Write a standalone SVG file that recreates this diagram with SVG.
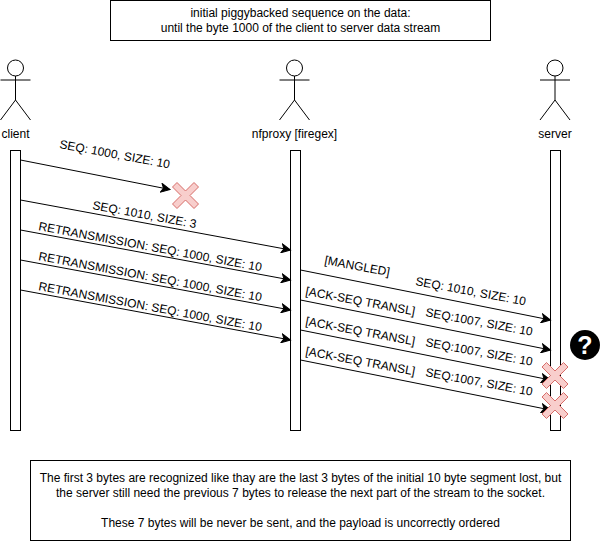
<svg xmlns="http://www.w3.org/2000/svg" width="601" height="542" viewBox="0 0 601 542">
<defs>
<marker id="arrow" markerUnits="userSpaceOnUse" markerWidth="12" markerHeight="10" refX="9.5" refY="5" orient="auto"><path d="M0.5 0.5L9.5 5L0.5 9.5L2.8 5Z" fill="#000" stroke="#000" stroke-width="1"/></marker>
<g id="actor-shape" fill="none" stroke="#000" stroke-width="1"><circle cx="15" cy="68" r="8"/><path d="M15 76V100M0 80H30M15 100L0 120M15 100L30 120"/></g>
<path id="cross" d="M-13 -8.5L-8.5 -13L0 -4.5L8.5 -13L13 -8.5L4.5 0L13 8.5L8.5 13L0 4.5L-8.5 13L-13 8.5L-4.5 0Z" fill="#f8cecc" stroke="#d76d69" stroke-width="1"/>
</defs>
<style>
text{font-family:"Liberation Sans",Arial,Helvetica,sans-serif;font-size:12px;fill:#000}
.m{text-anchor:middle}
.life{fill:#fff;stroke:#000;stroke-width:1}
.note{fill:#fff;stroke:#000;stroke-width:1}
.c{fill:none;stroke:#000;stroke-width:1;marker-end:url(#arrow)}
</style>
<rect width="601" height="542" fill="#fff"/>
<g id="note-top"><rect class="note" x="110.5" y="0.5" width="380" height="40"/><text class="m" x="300.5" y="17">initial piggybacked sequence on the data:</text><text class="m" x="300.5" y="32">until the byte 1000 of the client to server data stream</text></g>
<g id="client"><use href="#actor-shape" x="0.5"/><text class="m" x="15.5" y="138">client</text><rect class="life" x="10.5" y="150.5" width="10" height="280"/></g>
<g id="nfproxy"><use href="#actor-shape" x="279.5"/><text class="m" x="294.5" y="138">nfproxy [firegex]</text><rect class="life" x="290.5" y="150.5" width="10" height="280"/></g>
<g id="server"><use href="#actor-shape" x="540"/><text class="m" x="555" y="138">server</text><rect class="life" x="550.5" y="150.5" width="10" height="280"/></g>
<g id="connectors">
<path class="c" d="M20.5 160L170 189.5"/>
<path class="c" d="M20.5 200L290.5 250"/>
<path class="c" d="M20.5 230L290.5 280"/>
<path class="c" d="M20.5 260L290.5 310"/>
<path class="c" d="M20.5 290L290.5 340"/>
<path class="c" d="M300.5 270L550.5 320"/>
<path class="c" d="M300.5 300L550.5 350"/>
<path class="c" d="M300.5 330L550.5 380"/>
<path class="c" d="M300.5 360L550.5 410"/>
</g>
<g id="labels">
<text x="59" y="148" transform="rotate(10.5 59 148)">SEQ: 1000, SIZE: 10</text>
<text x="92" y="209" transform="rotate(10.5 92 209)">SEQ: 1010, SIZE: 3</text>
<text x="38" y="230" transform="rotate(10.5 38 230)">RETRANSMISSION: SEQ: 1000, SIZE: 10</text>
<text x="38" y="260" transform="rotate(10.5 38 260)">RETRANSMISSION: SEQ: 1000, SIZE: 10</text>
<text x="38" y="290" transform="rotate(10.5 38 290)">RETRANSMISSION: SEQ: 1000, SIZE: 10</text>
<text x="324" y="264" transform="rotate(10.5 324 264)">[MANGLED]</text>
<text x="415" y="285" transform="rotate(10.5 415 285)">SEQ: 1010, SIZE: 10</text>
<text x="305" y="295" transform="rotate(10.5 305 295)">[ACK-SEQ TRANSL]</text>
<text x="425" y="316" transform="rotate(10.5 425 316)">SEQ:1007, SIZE: 10</text>
<text x="305" y="325" transform="rotate(10.5 305 325)">[ACK-SEQ TRANSL]</text>
<text x="425" y="346" transform="rotate(10.5 425 346)">SEQ:1007, SIZE: 10</text>
<text x="305" y="355" transform="rotate(10.5 305 355)">[ACK-SEQ TRANSL]</text>
<text x="425" y="376" transform="rotate(10.5 425 376)">SEQ:1007, SIZE: 10</text>
</g>
<g id="lost-1"><use href="#cross" x="185.5" y="195.5"/></g>
<g id="lost-2"><use href="#cross" x="555" y="375.5"/></g>
<g id="lost-3"><use href="#cross" x="555" y="405.5"/></g>
<g id="question"><circle cx="585" cy="345" r="15"/><text class="m" x="585" y="354" style="font-size:25px;font-weight:bold;fill:#fff">?</text></g>
<g id="note-bottom"><rect class="note" x="30.5" y="460.5" width="540" height="80"/>
<text class="m" x="300.5" y="482">The first 3 bytes are recognized like thay are the last 3 bytes of the initial 10 byte segment lost, but</text>
<text class="m" x="300.5" y="497">the server still need the previous 7 bytes to release the next part of the stream to the socket.</text>
<text class="m" x="300.5" y="527">These 7 bytes will be never be sent, and the payload is uncorrectly ordered</text></g>
</svg>
